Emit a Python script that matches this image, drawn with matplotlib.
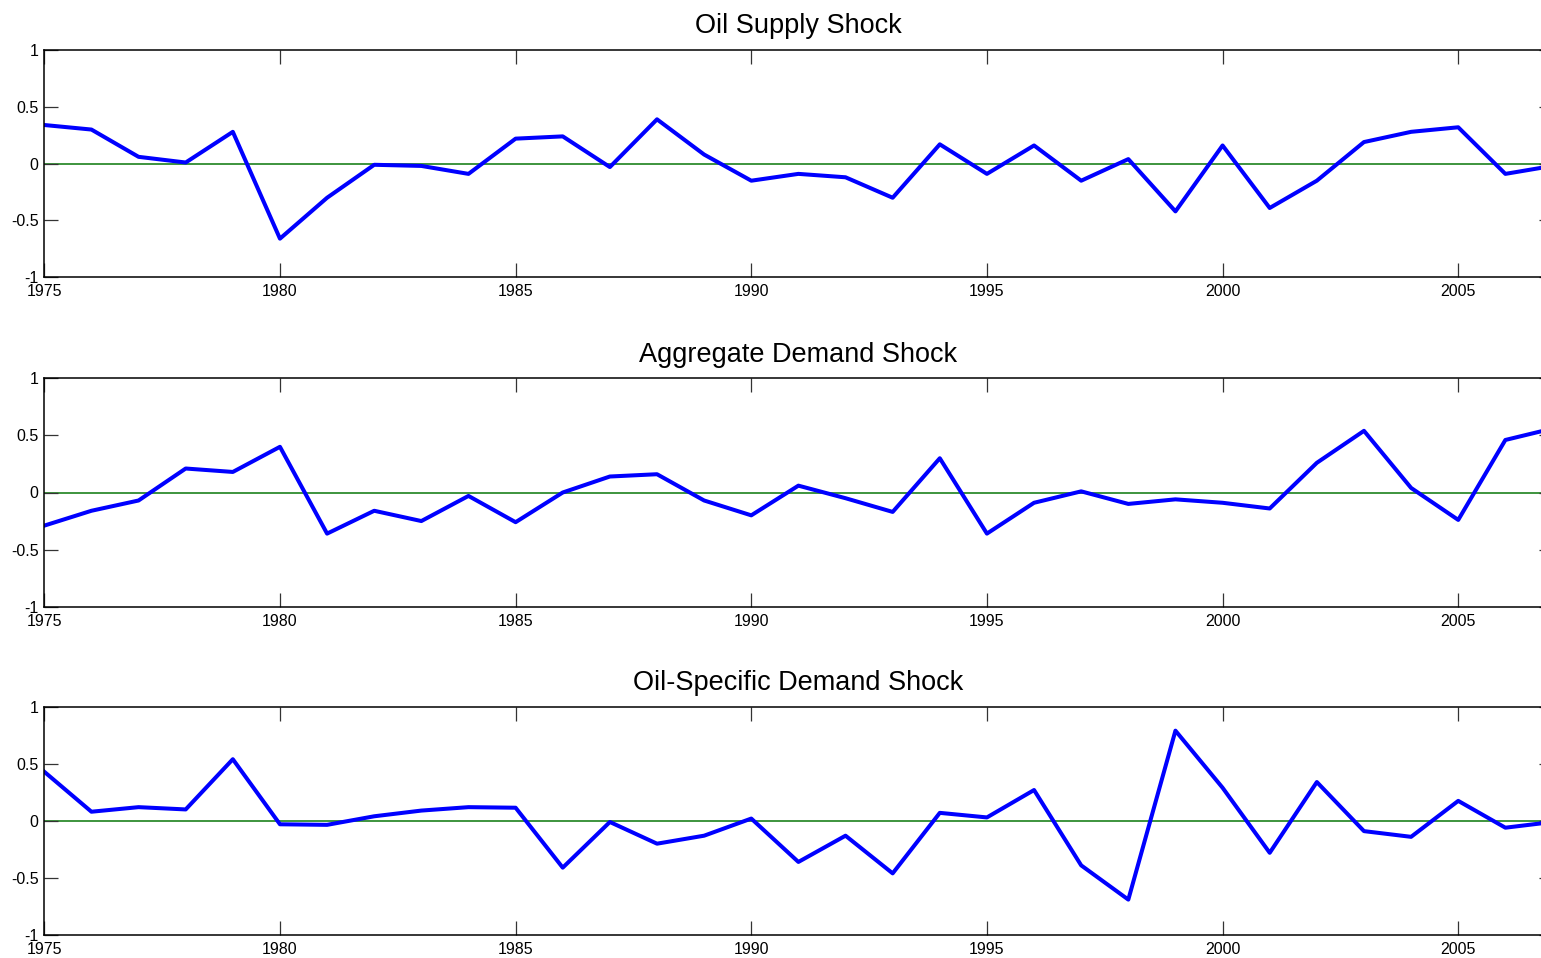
import numpy as np
import matplotlib
matplotlib.use("Agg")
import matplotlib.pyplot as plt
from matplotlib.ticker import FormatStrFormatter

plt.rcParams['font.family'] = ['Liberation Sans', 'DejaVu Sans']

years = np.arange(1975, 2008)

titles = ["Oil Supply Shock", "Aggregate Demand Shock", "Oil-Specific Demand Shock"]

oil_supply = [0.34, 0.30, 0.06, 0.01, 0.28, -0.66, -0.30, -0.01, -0.02, -0.09,
              0.22, 0.24, -0.03, 0.39, 0.08, -0.15, -0.09, -0.12, -0.30, 0.17,
              -0.09, 0.16, -0.15, 0.04, -0.42, 0.16, -0.39, -0.15, 0.19, 0.28,
              0.32, -0.09, -0.02]

agg_demand = [-0.29, -0.16, -0.07, 0.21, 0.18, 0.40, -0.36, -0.16, -0.25, -0.03,
              -0.26, 0.00, 0.14, 0.16, -0.07, -0.20, 0.06, -0.05, -0.17, 0.30,
              -0.36, -0.09, 0.01, -0.10, -0.06, -0.09, -0.14, 0.26, 0.54, 0.04,
              -0.24, 0.46, 0.56]

oil_specific = [0.43, 0.08, 0.12, 0.10, 0.54, -0.03, -0.035, 0.04, 0.09, 0.12,
                0.115, -0.41, -0.01, -0.20, -0.13, 0.02, -0.36, -0.13, -0.46, 0.07,
                0.03, 0.27, -0.39, -0.69, 0.79, 0.29, -0.28, 0.34, -0.09, -0.14,
                0.175, -0.06, -0.01]

series = [oil_supply, agg_demand, oil_specific]

xticks = [1975, 1980, 1985, 1990, 1995, 2000, 2005]
yticks = [-1, -0.5, 0, 0.5, 1]

W, H = 1541, 958
fig = plt.figure(figsize=(W / 100, H / 100), dpi=100)

# axes boxes in pixels (left, top, right, bottom); right edge runs past the image
boxes = [(44.3, 50.0, 1552.5, 277.3),
         (44.3, 378.3, 1552.5, 606.7),
         (44.3, 706.7, 1552.5, 935.0)]

for (l, t, r, b), title, vals in zip(boxes, titles, series):
    ax = fig.add_axes([l / W, 1 - b / H, (r - l) / W, (b - t) / H])
    ax.axhline(0, color='#2e8b2e', lw=1.3, zorder=1)
    ax.plot(years, vals, color='#0000ff', lw=2.9, zorder=2)
    ax.set_xlim(1975, 2007)
    ax.set_ylim(-1, 1)
    ax.set_xticks(xticks)
    ax.set_yticks(yticks)
    ax.yaxis.set_major_formatter(FormatStrFormatter('%g'))
    ax.tick_params(direction='in', length=10, width=0.9, top=True, right=True,
                   labelsize=11.5, color='#333333')
    ax.tick_params(axis='x', pad=5)
    ax.tick_params(axis='y', pad=4)
    for s in ax.spines.values():
        s.set_linewidth(1.1)
    ax.set_title(title, fontsize=19.5, pad=12)

fig.savefig("out.png", dpi=100)
